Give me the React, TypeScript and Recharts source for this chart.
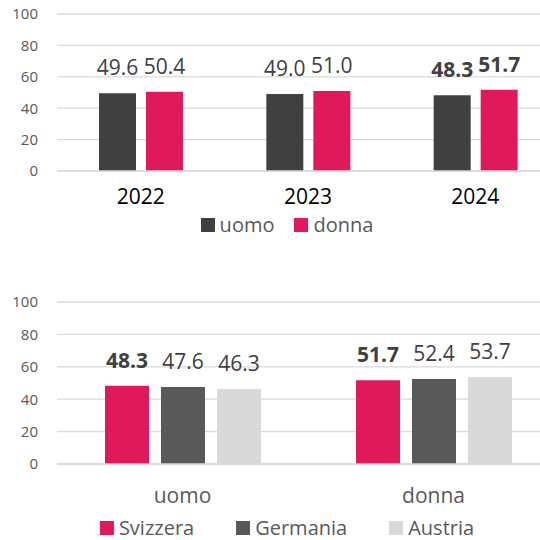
import React from 'react';
import { BarChart, Bar, XAxis, YAxis, CartesianGrid, Legend, LabelList } from 'recharts';

const years = ['2022', '2023', '2024'];
const uomoVals = [49.6, 49.0, 48.3];
const donnaVals = [50.4, 51.0, 51.7];

const genders = ['uomo', 'donna'];
const svizzeraVals = [48.3, 51.7];
const germaniaVals = [47.6, 52.4];
const austriaVals = [46.3, 53.7];

const yTicks = [0, 20, 40, 60, 80, 100];

const FONT = '"Open Sans", sans-serif';
const CRIMSON = '#E0195A';

const topData = years.map((y, i) => ({ year: y, uomo: uomoVals[i], donna: donnaVals[i] }));
const bottomData = genders.map((g, i) => ({
  gender: g,
  Svizzera: svizzeraVals[i],
  Germania: germaniaVals[i],
  Austria: austriaVals[i],
}));

const makeLabel = (isBold: (index: number) => boolean) => (props: any) => {
  const { x, y, width, value, index } = props;
  return (
    <text
      x={Number(x) + Number(width) / 2}
      y={Number(y) - 18}
      textAnchor="middle"
      fill="#404040"
      fontSize={21}
      fontFamily={FONT}
      fontWeight={isBold(index) ? 700 : 400}
    >
      {Number(value).toFixed(1)}
    </text>
  );
};

const LegendContent = ({ items, fontSize, gap }: { items: { name: string; color: string }[]; fontSize: number; gap: number }) => (
  <div
    style={{
      display: 'flex',
      justifyContent: 'center',
      alignItems: 'center',
      height: 24,
      gap,
      fontFamily: FONT,
      fontSize,
      color: '#595959',
    }}
  >
    {items.map((it) => (
      <div key={it.name} style={{ display: 'flex', alignItems: 'center' }}>
        <div style={{ width: 14, height: 14, background: it.color, marginRight: 5 }} />
        <span style={{ lineHeight: '24px' }}>{it.name}</span>
      </div>
    ))}
  </div>
);

const W = 574;

export default function App() {
  return (
    <div style={{ position: 'fixed', left: 0, top: 0, width: 540, height: 540, overflow: 'hidden', background: '#fff' }}>
      <div style={{ position: 'absolute', left: 0, top: 0 }}>
        <BarChart width={W} height={250} data={topData} margin={{ top: 14, right: 15, left: 0, bottom: 13 }} barGap={10}>
          <CartesianGrid vertical={false} stroke="#d9d9d9" strokeWidth={1.3} />
          <XAxis
            dataKey="year"
            height={42}
            tickLine={false}
            tickSize={0}
            tickMargin={18}
            axisLine={{ stroke: '#d9d9d9', strokeWidth: 1.3 }}
            tick={{ fill: '#000000', fontSize: 21, fontFamily: FONT }}
          />
          <YAxis
            width={57}
            domain={[0, 100]}
            ticks={yTicks}
            axisLine={false}
            tickLine={false}
            tickSize={0}
            tickMargin={19}
            tick={{ fill: '#595959', fontSize: 15, fontFamily: FONT }}
          />
          <Legend
            verticalAlign="bottom"
            wrapperStyle={{ left: 0, width: W }}
            content={() => (
              <LegendContent
                fontSize={20}
                gap={20}
                items={[
                  { name: 'uomo', color: '#404040' },
                  { name: 'donna', color: CRIMSON },
                ]}
              />
            )}
          />
          <Bar dataKey="uomo" fill="#404040" barSize={37} isAnimationActive={false}>
            <LabelList dataKey="uomo" content={makeLabel((i) => i === 2)} />
          </Bar>
          <Bar dataKey="donna" fill={CRIMSON} barSize={37} isAnimationActive={false}>
            <LabelList dataKey="donna" content={makeLabel((i) => i === 2)} />
          </Bar>
        </BarChart>
      </div>
      <div style={{ position: 'absolute', left: 0, top: 250 }}>
        <BarChart width={W} height={290} data={bottomData} margin={{ top: 52, right: 15, left: 0, bottom: 0 }} barGap={12}>
          <CartesianGrid vertical={false} stroke="#d9d9d9" strokeWidth={1.3} />
          <XAxis
            dataKey="gender"
            height={52}
            tickLine={false}
            tickSize={0}
            tickMargin={24}
            axisLine={{ stroke: '#d9d9d9', strokeWidth: 1.3 }}
            tick={{ fill: '#595959', fontSize: 21, fontFamily: FONT }}
          />
          <YAxis
            width={57}
            domain={[0, 100]}
            ticks={yTicks}
            axisLine={false}
            tickLine={false}
            tickSize={0}
            tickMargin={19}
            tick={{ fill: '#595959', fontSize: 15, fontFamily: FONT }}
          />
          <Legend
            verticalAlign="bottom"
            wrapperStyle={{ left: 0, width: W }}
            content={() => (
              <LegendContent
                fontSize={20}
                gap={42}
                items={[
                  { name: 'Svizzera', color: CRIMSON },
                  { name: 'Germania', color: '#595959' },
                  { name: 'Austria', color: '#D9D9D9' },
                ]}
              />
            )}
          />
          <Bar dataKey="Svizzera" fill={CRIMSON} barSize={44} isAnimationActive={false}>
            <LabelList dataKey="Svizzera" content={makeLabel(() => true)} />
          </Bar>
          <Bar dataKey="Germania" fill="#595959" barSize={44} isAnimationActive={false}>
            <LabelList dataKey="Germania" content={makeLabel(() => false)} />
          </Bar>
          <Bar dataKey="Austria" fill="#D9D9D9" barSize={44} isAnimationActive={false}>
            <LabelList dataKey="Austria" content={makeLabel(() => false)} />
          </Bar>
        </BarChart>
      </div>
    </div>
  );
}
